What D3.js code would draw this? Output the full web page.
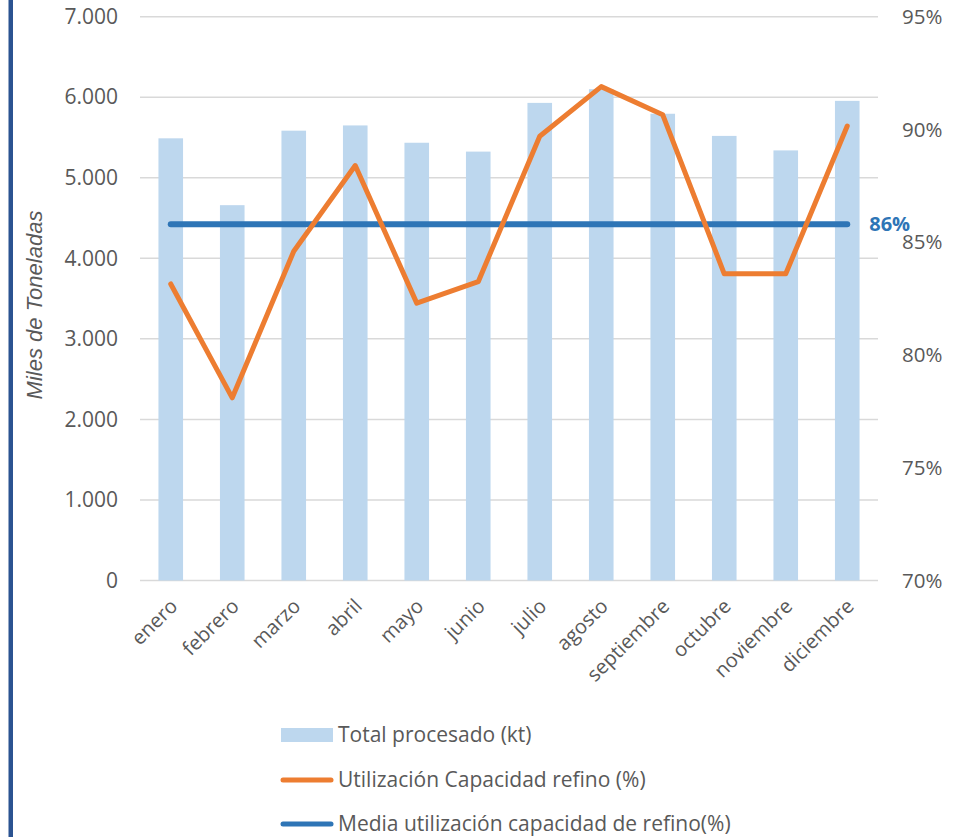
<!DOCTYPE html>
<html lang="es">
<head>
<meta charset="UTF-8">
<title>Procesado y utilización de refino</title>
<script src="https://d3js.org/d3.v7.min.js"></script>
<style>
  body { margin: 0; background: #fff; }
  text { font-family: "Open Sans", sans-serif; fill: #595959; }
</style>
</head>
<body>
<div id="chart"></div>
<script>
// datos
const meses = ["enero", "febrero", "marzo", "abril", "mayo", "junio", "julio",
               "agosto", "septiembre", "octubre", "noviembre", "diciembre"];
const totalProcesado = [5490, 4660, 5585, 5650, 5435, 5325, 5930, 6100, 5795, 5520, 5340, 5955];
const utilizacion = [83.15, 78.1, 84.6, 88.4, 82.3, 83.25, 89.7, 91.9, 90.65, 83.6, 83.6, 90.15];
const mediaUtilizacion = 85.8;
const ticksIzq = [0, 1000, 2000, 3000, 4000, 5000, 6000, 7000];
const ticksDer = [70, 75, 80, 85, 90, 95];
const leyenda = ["Total procesado (kt)", "Utilización Capacidad refino (%)",
                 "Media utilización capacidad de refino(%)"];

const W = 961, H = 837;
const plot = { left: 140, right: 878, top: 16.7, bottom: 580.5 };

const svg = d3.select("#chart").append("svg")
    .attr("width", W).attr("height", H);

// barra lateral azul
svg.append("rect")
    .attr("x", 8.5).attr("y", 0).attr("width", 4.5).attr("height", H)
    .attr("fill", "#2B5391");

const x = d3.scaleBand().domain(meses).range([plot.left, plot.right])
    .paddingInner(0.6).paddingOuter(0.3);
const yL = d3.scaleLinear().domain([0, 7000]).range([plot.bottom, plot.top]);
const yR = d3.scaleLinear().domain([70, 95]).range([plot.bottom, plot.top]);
const cx = d => x(d) + x.bandwidth() / 2;

// rejilla
svg.append("g").selectAll("line").data(ticksIzq).join("line")
    .attr("x1", plot.left).attr("x2", plot.right)
    .attr("y1", d => yL(d)).attr("y2", d => yL(d))
    .attr("stroke", "#D9D9D9").attr("stroke-width", 1.5);

// eje izquierdo
const fmt = d3.formatLocale({ decimal: ",", thousands: ".", grouping: [3], currency: ["", "€"] }).format(",");
const axL = svg.append("g").attr("transform", `translate(${plot.left - 22},0)`)
    .call(d3.axisLeft(yL).tickValues(ticksIzq).tickFormat(fmt).tickSize(0).tickPadding(0));
axL.select(".domain").remove();
axL.selectAll("text").style("font-size", "21px").attr("fill", "#595959")
    .style("font-family", "'Open Sans', sans-serif");

// eje derecho
const axR = svg.append("g").attr("transform", `translate(${plot.right + 24},0)`)
    .call(d3.axisRight(yR).tickValues(ticksDer).tickFormat(d => d + "%").tickSize(0).tickPadding(0));
axR.select(".domain").remove();
axR.selectAll("text").style("font-size", "20.5px").attr("fill", "#595959")
    .style("font-family", "'Open Sans', sans-serif");

// título eje Y
svg.append("text")
    .attr("transform", "translate(42,305) rotate(-90)")
    .attr("text-anchor", "middle")
    .style("font-family", "'Liberation Sans', Arial, sans-serif")
    .style("font-style", "italic").style("font-size", "22px")
    .text("Miles de Toneladas");

// barras
svg.append("g").selectAll("rect").data(meses).join("rect")
    .attr("x", d => x(d)).attr("width", x.bandwidth())
    .attr("y", (d, i) => yL(totalProcesado[i]))
    .attr("height", (d, i) => yL(0) - yL(totalProcesado[i]))
    .attr("fill", "#BDD7EE");

// etiquetas eje X
const axB = svg.append("g").attr("transform", `translate(0,${plot.bottom})`)
    .call(d3.axisBottom(x).tickSize(0).tickPadding(0));
axB.select(".domain").remove();
axB.selectAll("text")
    .style("font-size", "20px").attr("fill", "#595959")
    .style("font-family", "'Open Sans', sans-serif")
    .attr("text-anchor", "end")
    .attr("dy", "0.35em")
    .attr("transform", "translate(3,22) rotate(-45)");

// línea de media
svg.append("line")
    .attr("x1", cx(meses[0])).attr("x2", cx(meses[meses.length - 1]))
    .attr("y1", yR(mediaUtilizacion)).attr("y2", yR(mediaUtilizacion))
    .attr("stroke", "#2E75B6").attr("stroke-width", 6).attr("stroke-linecap", "round");

svg.append("text")
    .attr("x", cx(meses[meses.length - 1]) + 22).attr("y", yR(mediaUtilizacion))
    .attr("dy", "0.36em")
    .style("font-size", "20px").style("font-weight", "bold")
    .style("fill", "#2E75B6")
    .text(Math.round(mediaUtilizacion) + "%");

// línea de utilización
const linea = d3.line().x((d, i) => cx(meses[i])).y(d => yR(d));
svg.append("path").datum(utilizacion)
    .attr("d", linea)
    .attr("fill", "none").attr("stroke", "#ED7D31").attr("stroke-width", 5)
    .attr("stroke-linejoin", "round").attr("stroke-linecap", "round");

// leyenda
const leg = svg.append("g").attr("transform", "translate(281,0)");
const legY = [735, 780, 824];
leg.append("rect").attr("x", 0).attr("y", legY[0] - 7).attr("width", 52).attr("height", 14)
    .attr("fill", "#BDD7EE");
leg.append("line").attr("x1", 2).attr("x2", 50).attr("y1", legY[1]).attr("y2", legY[1])
    .attr("stroke", "#ED7D31").attr("stroke-width", 5).attr("stroke-linecap", "round");
leg.append("line").attr("x1", 2).attr("x2", 50).attr("y1", legY[2]).attr("y2", legY[2])
    .attr("stroke", "#2E75B6").attr("stroke-width", 5).attr("stroke-linecap", "round");
leg.selectAll("text.lbl").data(leyenda).join("text")
    .attr("class", "lbl")
    .attr("x", 57).attr("y", (d, i) => legY[i])
    .attr("dy", "0.33em")
    .style("font-size", "21px")
    .text(d => d);
</script>
</body>
</html>
